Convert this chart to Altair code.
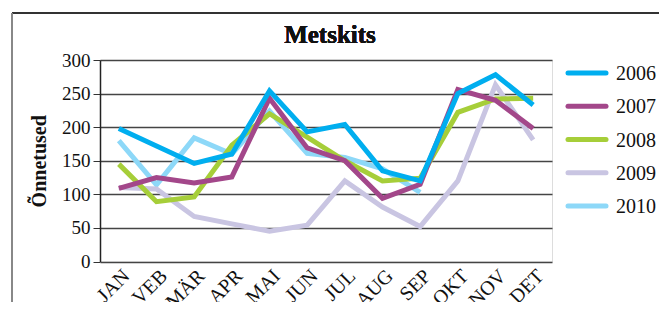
import altair as alt
import pandas as pd

months = ["JAN", "VEB", "MÄR", "APR", "MAI", "JUN", "JUL", "AUG", "SEP", "OKT", "NOV", "DET"]
years = ["2006", "2007", "2008", "2009", "2010"]
colors = ["#00AEEF", "#A3478A", "#A6CE39", "#C9C5E2", "#8DD8F8"]

v2006 = [198, 172, 146, 160, 254, 193, 204, 135, 120, 250, 278, 233]
v2007 = [109, 125, 117, 126, 243, 169, 150, 94, 115, 256, 240, 198]
v2008 = [145, 89, 96, 173, 220, 185, 150, 120, 124, 222, 242, 243]
v2009 = [110, 108, 67, 56, 45, 54, 120, 81, 52, 120, 263, 181]
v2010 = [180, 114, 184, 160, 224, 161, 155, 138, 103, None, None, None]

series = {"2006": v2006, "2007": v2007, "2008": v2008, "2009": v2009, "2010": v2010}

rows = []
for y in reversed(years):
    for m, v in zip(months, series[y]):
        if v is not None:
            rows.append({"month": m, "year": y, "value": v})
df = pd.DataFrame(rows)
leg_df = pd.DataFrame({"year": years})

FONT = "Liberation Serif"
color_scale = alt.Scale(domain=years, range=colors)

lines = alt.Chart(df).mark_line(strokeWidth=5, strokeCap="butt", strokeJoin="miter").encode(
    x=alt.X("month:N", sort=months, scale=alt.Scale(type="point", padding=0.5),
            axis=alt.Axis(title=None, labelAngle=-45, labelAlign="right", labelBaseline="top",
                          labelFont=FONT, labelFontSize=20, labelColor="#111", ticks=False,
                          domain=False, grid=False, labelPadding=4)),
    y=alt.Y("value:Q", scale=alt.Scale(domain=[0, 300]),
            axis=alt.Axis(title="Õnnetused", values=[0, 50, 100, 150, 200, 250, 300],
                          titleFont=FONT, titleFontSize=20, titleFontWeight="bold", titleColor="#111",
                          titlePadding=12, labelFont=FONT, labelFontSize=19, labelColor="#111",
                          labelPadding=3, tickSize=7, tickColor="#333", domainColor="#222",
                          domainWidth=1.5, gridColor="#444", gridWidth=1.3)),
    color=alt.Color("year:N", scale=color_scale, legend=None),
    detail="year:N",
)

leg_y = alt.Y("year:N", sort=years, scale=alt.Scale(type="point", padding=0, range=[13, 146]), axis=None)
leg_sym = alt.Chart(leg_df).mark_rule(strokeWidth=5, strokeCap="round").encode(
    x=alt.value(468), x2=alt.value(506), y=leg_y,
    color=alt.Color("year:N", scale=color_scale, legend=None),
)
leg_txt = alt.Chart(leg_df).mark_text(align="left", baseline="middle", font=FONT, fontSize=20,
                                      color="#111", dy=1).encode(
    x=alt.value(516), y=leg_y, text="year:N",
)

title_txt = alt.Chart(leg_df).mark_text(align="center", baseline="alphabetic", font=FONT,
                                        fontSize=25, fontWeight="bold", color="#111").encode(
    x=alt.value(230), y=alt.value(-17), text=alt.value("Metskits"),
)

frame_top = alt.Chart(leg_df).mark_rule(color="#333", strokeWidth=1.5).encode(
    x=alt.value(-88), x2=alt.value(580), y=alt.value(-47))
frame_left = alt.Chart(leg_df).mark_rule(color="#888", strokeWidth=1.5).encode(
    x=alt.value(-88), y=alt.value(-47), y2=alt.value(260))

chart = alt.layer(frame_top, frame_left, title_txt, lines, leg_sym, leg_txt).resolve_scale(
    y="independent"
).properties(
    width=452, height=201.5,
    autosize=alt.AutoSizeParams(type="none"),
    padding={"left": 92, "top": 52, "right": 107, "bottom": 40},
).configure_view(stroke=None).configure(background="white")

chart.save("out.html", embed_options={"renderer": "svg", "actions": False})
